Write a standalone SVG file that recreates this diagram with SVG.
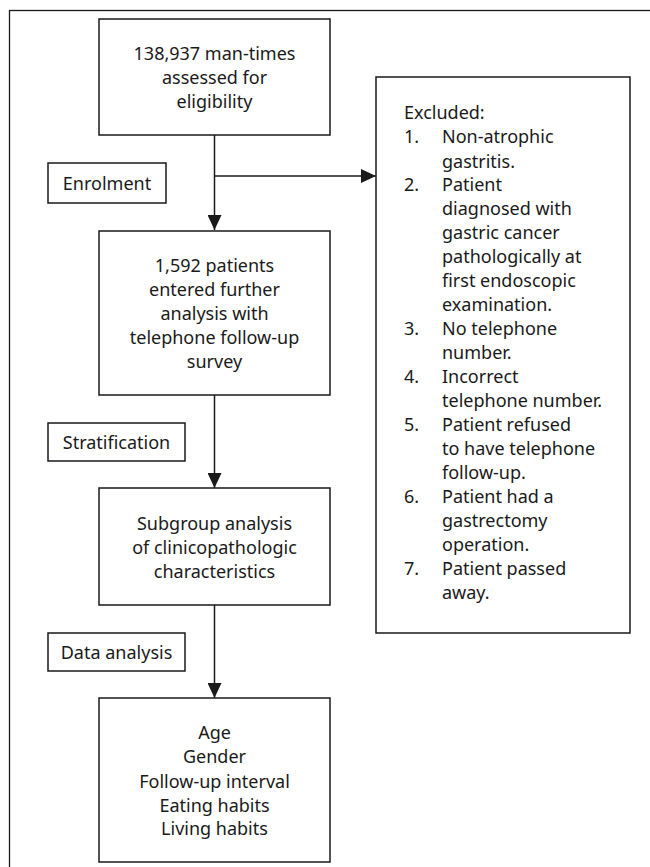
<svg xmlns="http://www.w3.org/2000/svg" width="650" height="867" viewBox="0 0 650 867">
<style>
.box{fill:#fff;stroke:#1a1a1a;stroke-width:1.5}
.frame{fill:none;stroke:#1a1a1a;stroke-width:1.3}
.t{font-family:"Noto Sans","Liberation Sans",sans-serif;font-size:18px;fill:#1a1a1a}
.c{text-anchor:middle}
.line{stroke:#1a1a1a;stroke-width:1.5;fill:none}
</style>
<defs>
<marker id="arr" viewBox="0 0 15 14" refX="15" refY="7" markerWidth="15" markerHeight="14" markerUnits="userSpaceOnUse" orient="auto">
<path d="M0,0 L15,7 L0,14 Z" fill="#1a1a1a"/>
</marker>
</defs>
<rect class="frame" x="9.5" y="10.5" width="700" height="900"/>
<g id="connectors">
<line class="line" x1="214.5" y1="135" x2="214.5" y2="230" marker-end="url(#arr)"/>
<line class="line" x1="214.5" y1="176" x2="376" y2="176" marker-end="url(#arr)"/>
<line class="line" x1="214.5" y1="395" x2="214.5" y2="488" marker-end="url(#arr)"/>
<line class="line" x1="214.5" y1="605" x2="214.5" y2="698" marker-end="url(#arr)"/>
</g>
<g id="box1">
<rect class="box" x="99" y="19" width="231" height="116"/>
<text class="t c" x="214.5" y="60">138,937 man-times</text>
<text class="t c" x="214.5" y="84">assessed for</text>
<text class="t c" x="214.5" y="108">eligibility</text>
</g>
<g id="enrolment">
<rect class="box" x="48" y="163" width="118" height="40"/>
<text class="t c" x="107" y="190">Enrolment</text>
</g>
<g id="box2">
<rect class="box" x="99" y="231" width="231" height="164"/>
<text class="t c" x="214.5" y="272">1,592 patients</text>
<text class="t c" x="214.5" y="296">entered further</text>
<text class="t c" x="214.5" y="320">analysis with</text>
<text class="t c" x="214.5" y="344">telephone follow-up</text>
<text class="t c" x="214.5" y="368">survey</text>
</g>
<g id="stratification">
<rect class="box" x="48" y="423" width="137" height="38"/>
<text class="t c" x="116.5" y="449">Stratification</text>
</g>
<g id="box3">
<rect class="box" x="99" y="488" width="231" height="117"/>
<text class="t c" x="214.5" y="530">Subgroup analysis</text>
<text class="t c" x="214.5" y="554">of clinicopathologic</text>
<text class="t c" x="214.5" y="578">characteristics</text>
</g>
<g id="dataanalysis">
<rect class="box" x="48" y="633" width="137" height="38"/>
<text class="t c" x="116.5" y="659">Data analysis</text>
</g>
<g id="box4">
<rect class="box" x="99" y="698" width="231" height="164"/>
<text class="t c" x="214.5" y="739">Age</text>
<text class="t c" x="214.5" y="763">Gender</text>
<text class="t c" x="214.5" y="788">Follow-up interval</text>
<text class="t c" x="214.5" y="812">Eating habits</text>
<text class="t c" x="214.5" y="835">Living habits</text>
</g>
<g id="excluded">
<rect class="box" x="376" y="77" width="254" height="556"/>
<text class="t" x="404" y="119">Excluded:</text>
<text class="t" x="404" y="143">1.</text>
<text class="t" x="442" y="143">Non-atrophic</text>
<text class="t" x="442" y="168">gastritis.</text>
<text class="t" x="404" y="191">2.</text>
<text class="t" x="442" y="191">Patient</text>
<text class="t" x="442" y="215">diagnosed with</text>
<text class="t" x="442" y="239">gastric cancer</text>
<text class="t" x="442" y="263">pathologically at</text>
<text class="t" x="442" y="287">first endoscopic</text>
<text class="t" x="442" y="311">examination.</text>
<text class="t" x="404" y="335">3.</text>
<text class="t" x="442" y="335">No telephone</text>
<text class="t" x="442" y="359">number.</text>
<text class="t" x="404" y="383">4.</text>
<text class="t" x="442" y="383">Incorrect</text>
<text class="t" x="442" y="407">telephone number.</text>
<text class="t" x="404" y="431">5.</text>
<text class="t" x="442" y="431">Patient refused</text>
<text class="t" x="442" y="455">to have telephone</text>
<text class="t" x="442" y="479">follow-up.</text>
<text class="t" x="404" y="503">6.</text>
<text class="t" x="442" y="503">Patient had a</text>
<text class="t" x="442" y="527">gastrectomy</text>
<text class="t" x="442" y="551">operation.</text>
<text class="t" x="404" y="575">7.</text>
<text class="t" x="442" y="575">Patient passed</text>
<text class="t" x="442" y="599">away.</text>
</g>
</svg>
